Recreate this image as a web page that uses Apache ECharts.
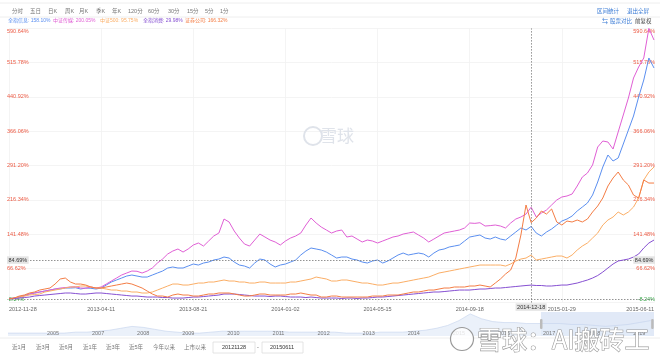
<!DOCTYPE html>
<html><head><meta charset="utf-8">
<script src="https://cdn.jsdelivr.net/npm/echarts@6/dist/echarts.min.js"></script>
<style>html,body{margin:0;padding:0;background:#fff}#c{width:660px;height:358px}</style>
</head><body><div id="c"></div>
<script>
// ---------- data ----------
const xTickLabels = ['2012-11-28','2013-04-11','2013-08-21','2014-01-02','2014-05-15','2014-09-18','2015-01-29','2015-06-11'];
const pointsPerTick = 18;
const yMin = -8.24, yStep = 74.86, yMax = 590.64;
const seriesNames = ['全指信息','中证传媒','中证500','全指消费','证券公司'];
const legendValues = ['158.10%','200.05%','95.75%','29.98%','166.32%'];
const crossIndex = 102, crossDate = '2014-12-18', crossValue = 84.69;

const infoVals = [0,1.7,3.9,7.2,10.5,12.7,14.9,17.0,19.2,21.4,21.8,23.6,23.6,24.2,21.4,23.6,23.0,21.4,23.6,30.1,
36.7,41.1,45.4,49.8,52.0,49.8,47.6,47.6,52.0,56.4,60.7,67.3,69.5,67.3,67.3,71.6,76.0,73.8,78.2,80.4,
84.8,86.9,91.3,89.1,80.4,73.8,71.6,67.3,78.2,86.9,84.8,76.0,69.5,73.8,76.0,80.4,84.8,95.7,104.4,111.0,
108.8,106.6,102.2,95.7,89.1,91.3,91.3,86.9,84.8,80.4,78.2,82.6,84.8,78.2,82.6,89.1,95.7,100.0,95.7,97.9,
100.0,97.9,91.3,100.0,106.6,108.8,113.2,115.3,117.5,126.3,135.0,137.2,139.4,132.8,130.6,135.0,130.6,128.4,137.2,145.9,
154.7,150.3,158.1,143.7,137.2,145.9,152.5,161.2,169.9,174.3,180.9,191.8,200.5,209.3,226.7,255.1,287.9,314.1,301.0,307.6,
338.1,368.7,399.3,440.8,477.9,526.0,504.2];
const mediaVals = [0,1.7,3.9,6.1,10.5,12.7,14.9,17.0,19.2,21.4,23.6,24.5,25.8,26.4,23.6,23.1,25.8,23.6,25.8,32.3,
38.9,45.4,52.0,56.4,60.7,60.2,56.4,60.7,67.3,78.2,86.9,97.9,104.4,108.8,102.2,108.8,117.5,121.9,115.3,126.3,
137.2,143.7,174.3,167.8,148.1,132.8,119.7,115.3,128.4,141.5,135.0,128.4,124.1,117.5,126.3,132.8,137.2,143.7,161.2,176.5,
165.6,156.8,150.3,143.7,148.1,150.3,135.0,137.2,130.6,124.1,128.4,126.3,121.9,126.3,130.6,135.0,137.2,141.5,143.7,145.9,
139.4,132.8,124.1,130.6,137.2,143.7,145.9,148.1,150.3,154.7,165.6,164.8,166.2,159.0,159.9,161.2,159.0,154.7,165.6,174.3,
178.7,185.2,200.05,178.7,187.4,194.0,204.9,215.8,222.4,224.6,228.9,246.4,266.0,274.8,292.3,331.6,344.7,342.5,327.2,364.4,
401.5,438.6,482.3,506.4,526.0,590.64,565.3];
const csi500Vals = [0,1.7,3.9,6.1,8.3,9.4,10.5,14.9,17.0,19.2,21.4,23.6,25.8,25.8,28.0,28.0,25.8,23.6,23.6,21.4,
19.2,19.2,17.0,17.0,14.9,14.9,12.7,12.7,14.9,19.2,23.6,28.0,32.3,32.3,30.1,30.1,32.3,34.5,34.5,36.7,
36.7,38.9,41.1,38.9,38.9,36.7,36.7,34.5,34.5,36.7,36.7,34.5,34.5,34.5,34.5,36.7,36.7,38.9,41.1,43.3,
47.6,45.4,43.3,38.9,38.9,41.1,41.1,38.9,36.7,34.5,34.5,32.3,30.1,30.1,32.3,34.5,34.5,36.7,38.9,41.1,
43.3,45.4,47.6,52.0,56.4,58.5,60.7,62.9,65.1,67.3,69.5,71.6,73.8,73.8,73.8,73.8,73.8,71.6,76.0,82.6,
86.9,89.1,95.75,84.8,86.9,89.1,91.3,93.5,93.5,89.1,95.7,106.6,115.3,121.9,132.8,143.7,161.2,172.1,178.7,189.6,
183.1,189.6,200.5,220.2,259.5,277.0,287.9];
const consumeVals = [0,0.7,1.7,2.8,3.9,6.1,7.2,8.3,9.4,10.5,11.6,12.7,12.7,11.6,10.5,10.5,11.6,12.7,12.7,11.6,
10.5,9.4,8.3,7.2,6.1,6.1,5.0,3.9,3.9,3.9,2.8,2.8,1.7,1.7,1.7,2.8,3.9,3.9,5.0,6.1,
7.2,8.3,10.5,10.5,10.5,9.4,8.3,7.2,6.1,6.1,6.1,5.0,6.1,6.1,5.0,3.9,3.9,3.9,2.8,3.9,
2.8,1.7,1.7,1.7,1.7,0.7,1.7,1.7,0.7,1.7,1.7,2.8,3.9,3.9,5.0,6.1,7.2,8.3,9.4,10.5,
11.6,12.7,13.8,14.9,14.9,15.9,17.0,18.1,19.2,19.2,19.2,20.3,21.4,21.4,22.5,23.6,23.6,24.7,25.8,26.9,
28.0,29.1,29.98,29.1,29.1,28.0,28.0,29.1,30.1,30.1,32.3,34.5,37.8,41.1,45.4,50.9,58.5,67.3,76.0,82.6,
84.8,86.9,91.3,97.9,111.0,121.9,128.4];
const securityVals = [0,1.7,6.1,8.3,12.7,14.9,19.2,21.4,23.6,32.3,43.3,45.4,36.7,32.3,32.3,30.1,25.8,23.6,23.6,25.8,
28.0,30.1,32.3,34.5,32.3,28.0,23.6,17.0,10.5,6.1,6.1,3.9,8.3,10.5,8.3,8.3,6.1,6.1,8.3,10.5,
10.5,12.7,12.7,12.7,10.5,8.3,6.1,6.1,8.3,10.5,10.5,8.3,8.3,8.3,8.3,10.5,10.5,12.7,10.5,8.3,
8.3,3.9,3.9,6.1,6.1,3.9,3.9,3.9,3.9,3.9,3.9,6.1,6.1,6.1,8.3,8.3,8.3,10.5,12.7,14.9,
14.9,17.0,19.2,19.2,21.4,23.6,23.6,25.8,25.8,25.8,28.0,28.0,30.1,28.0,25.8,34.5,43.3,54.2,62.9,89.1,
139.4,204.9,166.32,176.5,191.8,185.2,196.2,167.8,161.2,169.9,167.8,172.1,167.8,174.3,189.6,202.7,220.2,246.4,263.9,277.0,
259.5,248.6,226.7,220.2,259.5,252.9,252.9];

// navigator (long history overview)
const navYears = [2006,2007,2008,2009,2010,2011,2012,2013,2014,2015,2016,2017,2018,2019];
const navYearLabels = ['2005','2007','2008','2009','2010','2011','2012','2013','2014','2015','2016','2017','2018','2019'];
const navStartYear = 2005.0, navStep = 0.25;
const navValues = [3,3,3,3,3,3,4,4,5,6,8,10,9,7,5,4,3,3,4,5,5,5,5,5,5,4,4,4,4,4,3,3,3,4,4,4,5,6,8,11,
16,23,18,15,14,14,13,13,13,13,12,12,11,10,11,12,14,16];
const navWindow = [2016.82, 2019.33];

const periodTabs = ['分时','五日','日K','周K','月K','季K','年K','120分','60分','30分','15分','5分','1分'];
const rangeButtons = ['近1月','近3月','近6月','近1年','近3年','近5年','今年以来','上市以来'];
const dateFrom = '20121128', dateTo = '20150611';

// ---------- styles ----------
const colors = ['#5b8ff0','#e05fd5','#fbae66','#8650d2','#f47d45'];
const FONT = '"Liberation Sans","Noto Sans CJK SC",sans-serif';
const RED = '#ec5b45', GREEN = '#3aa54a';

const chart = echarts.init(document.getElementById('c'), null, {renderer:'canvas'});
const valueSets = [infoVals, mediaVals, csi500Vals, consumeVals, securityVals];
const N = infoVals.length;

const fmtPct = v => v.toFixed(2) + '%';
const yLabelCommon = {
  inside: true, fontSize: 5.5, fontFamily: FONT,
  formatter: v => Math.abs(v - yMin) < 1e-6 ? '{g|' + fmtPct(v) + '}' : fmtPct(v),
  color: RED,
  rich: { g: { color: GREEN, fontSize: 5.5, fontFamily: FONT } },
  verticalAlignMinLabel: 'bottom', verticalAlignMaxLabel: 'top'
};

const series = valueSets.map((vals, k) => ({
  name: seriesNames[k], type: 'line', xAxisIndex: 0, yAxisIndex: 0,
  data: vals.map((v, i) => [i, v]), showSymbol: false, symbol: 'none',
  lineStyle: { width: 1, color: colors[k] }, itemStyle: { color: colors[k] },
  z: 3 + k, silent: true, animation: false
}));
series[0].markLine = {
  silent: true, symbol: 'none', animation: false,
  lineStyle: { color: '#777', type: [1.5, 1.5], width: 0.8 },
  label: { show: false },
  data: [{ xAxis: crossIndex }, { yAxis: crossValue }, { yAxis: 0 }]
};

series.push({
  type: 'line', xAxisIndex: 1, yAxisIndex: 2, silent: true, animation: false, z: 1,
  data: navValues.map((v, i) => [navStartYear + i * navStep, v]),
  showSymbol: false,
  lineStyle: { width: 0.6, color: '#c3d2ec' },
  areaStyle: { color: '#e3ebf8' },
  markArea: { silent: true, itemStyle: { color: 'rgba(200,215,240,0.55)' },
    data: [[{ xAxis: navWindow[0] }, { xAxis: navWindow[1] }]] }
});

const option = {
  animation: false,
  backgroundColor: '#fff',
  textStyle: { fontFamily: FONT },
  grid: [
    { left: 9, right: 6, top: 28.4, bottom: 55.4, containLabel: false },
    { left: 9, right: 6, top: 312, height: 24, containLabel: false }
  ],
  xAxis: [
    { type: 'value', gridIndex: 0, min: 0, max: N - 1, interval: pointsPerTick,
      axisLine: { show: false }, axisTick: { show: false },
      splitLine: { show: true, lineStyle: { color: '#f1f1f1', width: 0.8 } },
      axisLabel: { fontSize: 5.5, color: '#666', margin: 4, fontFamily: FONT,
        formatter: v => xTickLabels[Math.round(v / pointsPerTick)] || '',
        alignMinLabel: 'left', alignMaxLabel: 'right' } },
    { type: 'value', gridIndex: 1, min: 2005.024, max: 2019.326, z: 20,
      axisLine: { show: false }, axisTick: { show: false },
      splitLine: { show: false },
      axisLabel: { inside: true, fontSize: 5.5, color: '#777', margin: 0, verticalAlign: 'bottom',
        customValues: navYears,
        formatter: v => navYearLabels[navYears.indexOf(Math.round(v))] || '' } }
  ],
  yAxis: [
    { type: 'value', gridIndex: 0, min: yMin, max: yMax, interval: yStep, position: 'left',
      axisLine: { show: false }, axisTick: { show: false },
      splitLine: { show: true, lineStyle: { color: '#f1f1f1', width: 0.8 } },
      axisLabel: Object.assign({ margin: -2 }, yLabelCommon) },
    { type: 'value', gridIndex: 0, min: yMin, max: yMax, interval: yStep, position: 'right',
      axisLine: { show: false }, axisTick: { show: false }, splitLine: { show: false },
      axisLabel: Object.assign({ margin: -1 }, yLabelCommon) },
    { type: 'value', gridIndex: 1, min: 0, max: 25,
      axisLine: { show: false }, axisTick: { show: false }, splitLine: { show: false },
      axisLabel: { show: false } }
  ],
  series: series
};
chart.setOption(option);

// ---------- decorations and texts ----------
const g = [];
const T = (x, y, text, o) => g.push({ type: 'text', x: x, y: y, silent: true, z: (o && o.z) || 10,
  style: Object.assign({ text: text, font: '5.5px ' + FONT, fill: '#666', verticalAlign: 'middle' }, (o || {}).style) });

const tabX = [12,30,48,65,79,96,112,128,148,168,187,205,220];
periodTabs.forEach((t, i) => T(tabX[i], 11, t, { style: { fill: '#777' } }));
T(597, 11, '区间统计', { style: { fill: '#3a7bd5' } });
T(627, 11, '退出全屏', { style: { fill: '#3a7bd5' } });
g.push({ type: 'line', silent: true, shape: { x1: 0, y1: 3, x2: 660, y2: 3 }, style: { stroke: '#eee', lineWidth: 1 } });
g.push({ type: 'line', silent: true, shape: { x1: 0, y1: 17, x2: 660, y2: 17 }, style: { stroke: '#eee', lineWidth: 1 } });

const legX = [8, 53, 100, 143, 185];
seriesNames.forEach((n, k) => T(legX[k], 21, n + ': ' + legendValues[k], { style: { fill: colors[k], font: '5px ' + FONT } }));
T(602, 21, '⇆', { style: { fill: '#3a7bd5', font: '6px ' + FONT } });
T(610, 21, '股票对比', { style: { fill: '#3a7bd5' } });
T(635, 21, '前复权', { style: { fill: '#444' } });

const cp = chart.convertToPixel({ gridIndex: 0 }, [crossIndex, crossValue]);
const box = (x, y, text, align) => g.push({ type: 'text', x: x, y: y, silent: true, z: 100,
  style: { text: text, font: '5.5px ' + FONT, fill: '#333', backgroundColor: '#e4e4e4',
    padding: [1, 1.5], align: align, verticalAlign: 'middle' } });
box(7, cp[1], fmtPct(crossValue), 'left');
box(655, cp[1], fmtPct(crossValue), 'right');
const bottomY = chart.convertToPixel({ gridIndex: 0 }, [0, yMin])[1];
box(cp[0], bottomY + 4.5, crossDate, 'center');

const h1 = chart.convertToPixel({ gridIndex: 1 }, [navWindow[0], 0]);
const h2 = chart.convertToPixel({ gridIndex: 1 }, [navWindow[1], 0]);
[h1[0], h2[0] - 2].forEach(x => g.push({ type: 'rect', silent: true, z: 50,
  shape: { x: x - 1, y: 319, width: 2.5, height: 10, r: 1 }, style: { fill: '#bbb' } }));

const btnX = [12,36,59,83,106,129,153,184];
rangeButtons.forEach((t, i) => T(btnX[i], 347, t, { style: { fill: '#777' } }));
g.push({ type: 'rect', silent: true, shape: { x: 213, y: 342, width: 42, height: 11 }, style: { fill: '#fff', stroke: '#ddd', lineWidth: 0.8 } });
g.push({ type: 'rect', silent: true, shape: { x: 262, y: 342, width: 41, height: 11 }, style: { fill: '#fff', stroke: '#ddd', lineWidth: 0.8 } });
T(234, 347.5, dateFrom, { style: { fill: '#333', align: 'center' } });
T(257, 347.5, '-', { style: { fill: '#666' } });
T(282, 347.5, dateTo, { style: { fill: '#333', align: 'center' } });
g.push({ type: 'line', silent: true, shape: { x1: 0, y1: 338, x2: 660, y2: 338 }, style: { stroke: '#eee', lineWidth: 1 } });

g.push({ type: 'circle', silent: true, shape: { cx: 313, cy: 136, r: 9 }, style: { fill: 'none', stroke: '#dfe3ea', lineWidth: 2 } });
T(320, 136, '雪球', { style: { fill: '#dfe3ea', font: '17px "Noto Sans CJK SC"' } });

g.push({ type: 'circle', silent: true, z: 200, shape: { cx: 462, cy: 339, r: 11.5 }, style: { fill: 'rgba(255,255,255,0.8)', stroke: '#999', lineWidth: 1.2 } });
g.push({ type: 'text', silent: true, z: 200, x: 477, y: 339,
  style: { text: '雪球：AI搬砖工', font: '25px "Noto Sans CJK SC"', fill: '#fff', stroke: '#9a9a9a', lineWidth: 1.2,
    verticalAlign: 'middle', shadowColor: 'rgba(0,0,0,0.25)', shadowBlur: 2 } });

chart.setOption({ graphic: { elements: g } });
</script></body></html>
